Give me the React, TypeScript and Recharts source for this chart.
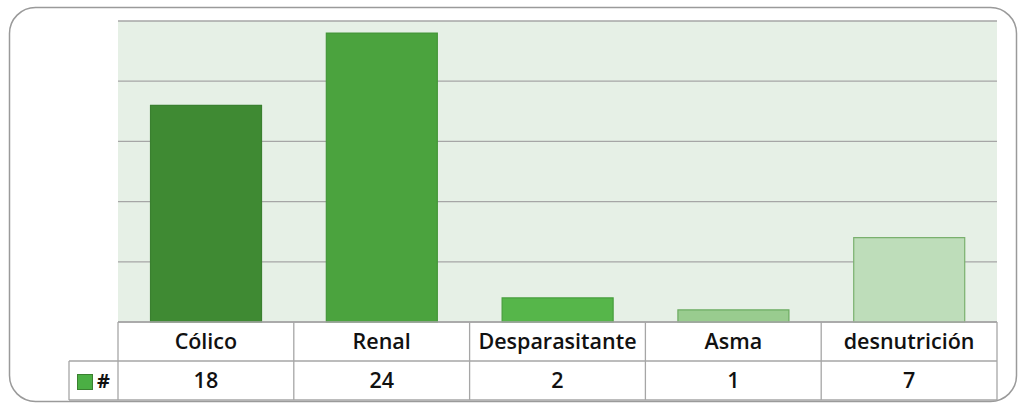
import React from "react";
import { BarChart, Bar, XAxis, YAxis, CartesianGrid, Cell } from "recharts";

const categories = ["Cólico", "Renal", "Desparasitante", "Asma", "desnutrición"];
const values = [18, 24, 2, 1, 7];
const yTicks = [0, 5, 10, 15, 20, 25];
const seriesName = "#";

const fills = ["#3F8A33", "#4BA33E", "#56B64A", "#99CC8F", "#BEDDBA"];
const strokes = ["#3A8030", "#45973A", "#479D3C", "#6BAA60", "#7AB06E"];

const data = categories.map((c, i) => ({ name: c, value: values[i] }));

const W = 1019;
const H = 407;
const PL = 118;
const PR = 997;
const PT = 21;
const PB = 322;
const ROW1 = 361;
const ROW2 = 400;
const LEG_L = 69;

const FONT = "'Open Sans', Lato, sans-serif";

const Tick = (props: any) => {
  const { x, payload, index } = props;
  return (
    <g>
      <text x={x} y={PB + 27} textAnchor="middle" fontFamily={FONT} fontSize={21.5} fontWeight={600} fill="#111">
        {payload.value}
      </text>
      <text x={x} y={ROW1 + 27} textAnchor="middle" fontFamily={FONT} fontSize={21.5} fontWeight={600} fill="#111">
        {values[index]}
      </text>
    </g>
  );
};

export default function App() {
  const colW = (PR - PL) / categories.length;
  const gray = "#A6A6A6";
  return (
    <div style={{ position: "absolute", left: 0, top: 0, width: W, height: H, background: "#fff" }}>
      <svg width={W} height={H} style={{ position: "absolute", left: 0, top: 0 }}>
        <rect x={9.5} y={7.5} width={1007} height={394} rx={26} ry={26} fill="none" stroke="#9A9A9A" strokeWidth={1.5} />
      </svg>
      <div style={{ position: "absolute", left: 0, top: 0 }}>
        <BarChart
          width={W}
          height={H}
          data={data}
          margin={{ top: PT, right: W - PR, left: PL, bottom: 0 }}
          barCategoryGap="18.5%"
        >
          <CartesianGrid vertical={false} horizontal stroke={gray} strokeWidth={1.3} fill="#E6F0E6" fillOpacity={1} />
          <YAxis hide domain={[0, 25]} ticks={yTicks} />
          <XAxis
            dataKey="name"
            axisLine={false}
            tickLine={false}
            tickSize={0}
            tickMargin={0}
            height={H - PB}
            interval={0}
            tick={<Tick />}
          />
          <Bar dataKey="value" name={seriesName} isAnimationActive={false}>
            {data.map((d, i) => (
              <Cell key={d.name} fill={fills[i]} stroke={strokes[i]} strokeWidth={1.2} />
            ))}
          </Bar>
        </BarChart>
      </div>
      <svg width={W} height={H} style={{ position: "absolute", left: 0, top: 0, pointerEvents: "none" }}>
        <g stroke={gray} strokeWidth={1.3} fill="none">
          <line x1={PL} y1={PB} x2={PR} y2={PB} />
          <line x1={LEG_L} y1={ROW1} x2={PR} y2={ROW1} />
          <line x1={LEG_L} y1={ROW2} x2={PR} y2={ROW2} />
          <line x1={LEG_L} y1={ROW1} x2={LEG_L} y2={ROW2} />
          {categories.map((c, i) => (
            <line key={c} x1={PL + colW * i} y1={PB} x2={PL + colW * i} y2={ROW2} />
          ))}
          <line x1={PR} y1={PB} x2={PR} y2={ROW2} />
        </g>
        <rect x={77.5} y={374.5} width={15} height={15} fill="#4BAF44" stroke="#3A8030" strokeWidth={1} />
        <text x={97} y={388} fontFamily={FONT} fontSize={20} fontWeight={700} fill="#111">
          {seriesName}
        </text>
      </svg>
    </div>
  );
}
